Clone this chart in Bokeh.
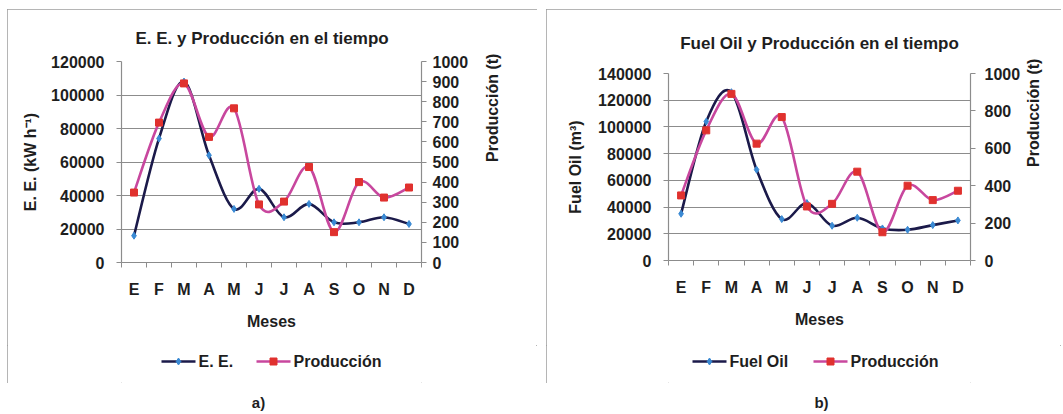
import math
from bokeh.plotting import figure
from bokeh.models import (Range1d, LinearAxis, FixedTicker, ColumnDataSource,
                          NumeralTickFormatter, Spacer)
from bokeh.layouts import row, column
from bokeh.embed import file_html
from bokeh.resources import INLINE
from bokeh.core.properties import value

# ---------------- data ----------------
meses = ["E", "F", "M", "A", "M", "J", "J", "A", "S", "O", "N", "D"]
ee = [16000, 74000, 108000, 64000, 32000, 44000, 27000, 35000, 24000, 24000, 27000, 23000]
fuel_oil = [35000, 104000, 126000, 68000, 31000, 43000, 26000, 32000, 24000, 23000, 26500, 30000]
produccion = [348, 696, 891, 625, 767, 289, 303, 475, 151, 400, 323, 373]
ee_ticks = [0, 20000, 40000, 60000, 80000, 100000, 120000]
fo_ticks = [0, 20000, 40000, 60000, 80000, 100000, 120000, 140000]
prod_ticks_a = [0, 100, 200, 300, 400, 500, 600, 700, 800, 900, 1000]
prod_ticks_b = [0, 200, 400, 600, 800, 1000]

FONT = "Liberation Sans"
TXT = "#1e1e1e"
AX = "#8c8c8c"
NAVY = "#1b1a4a"
BLUE = "#3a8ad4"
PINK = "#c8479e"
RED = "#e0312e"
BOX = ":host { outline: 1px solid #9c9c9c; outline-offset: -1px; }"


def bezier_source(xs, ys):
    n = len(xs)
    d = dict(x0=[], y0=[], x1=[], y1=[], cx0=[], cy0=[], cx1=[], cy1=[])
    for i in range(n - 1):
        a = max(i - 1, 0)
        b = min(i + 2, n - 1)
        d["x0"].append(xs[i]); d["y0"].append(ys[i])
        d["x1"].append(xs[i + 1]); d["y1"].append(ys[i + 1])
        d["cx0"].append(xs[i] + (xs[i + 1] - xs[a]) / 6)
        d["cy0"].append(ys[i] + (ys[i + 1] - ys[a]) / 6)
        d["cx1"].append(xs[i + 1] - (xs[b] - xs[i]) / 6)
        d["cy1"].append(ys[i + 1] - (ys[b] - ys[i]) / 6)
    return ColumnDataSource(d)


def style_axis(ax, font_size="16px"):
    ax.axis_line_color = AX
    ax.axis_line_width = 1.2
    ax.major_tick_line_color = AX
    ax.minor_tick_line_color = AX
    ax.major_label_text_font = FONT
    ax.major_label_text_font_style = "bold"
    ax.major_label_text_font_size = font_size
    ax.major_label_text_color = TXT
    ax.axis_label_text_font = FONT
    ax.axis_label_text_font_style = "bold"
    ax.axis_label_text_font_size = "16px"
    ax.axis_label_text_color = TXT


def chart(title, left_vals, left_ticks, left_label, prod_ticks,
          w, h, bl, br, bt, bb, title_align, title_offset, title_standoff,
          llabel_standoff, rlabel_standoff, rtick_standoff):
    centers = [i + 0.5 for i in range(len(meses))]
    bounds = list(range(len(meses) + 1))
    p = figure(width=w, height=h, x_range=Range1d(0, len(meses)),
               y_range=Range1d(0, left_ticks[-1]),
               output_backend="svg", toolbar_location=None,
               min_border_left=bl, min_border_right=br,
               min_border_top=bt, min_border_bottom=bb)
    p.extra_y_ranges = {"prod": Range1d(0, prod_ticks[-1])}
    p.outline_line_color = None

    p.title.text = title
    p.title.align = title_align
    p.title.offset = title_offset
    p.title.standoff = title_standoff
    p.title.text_font = FONT
    p.title.text_font_style = "bold"
    p.title.text_font_size = "17px"
    p.title.text_color = TXT

    xa = p.xaxis[0]
    xa.ticker = FixedTicker(ticks=centers, minor_ticks=bounds)
    xa.major_label_overrides = {c: m for c, m in zip(centers, meses)}
    style_axis(xa)
    xa.major_tick_out = 0
    xa.major_tick_in = 0
    xa.minor_tick_out = 5
    xa.minor_tick_in = 0
    xa.major_label_standoff = 13
    xa.axis_label = "Meses"
    xa.axis_label_standoff = 12

    ya = p.yaxis[0]
    ya.ticker = FixedTicker(ticks=left_ticks)
    ya.formatter = NumeralTickFormatter(format="0")
    style_axis(ya)
    ya.major_tick_out = 5
    ya.major_tick_in = 0
    ya.minor_tick_out = 0
    ya.minor_tick_in = 0
    ya.major_label_standoff = 12
    ya.axis_label = left_label
    ya.axis_label_standoff = llabel_standoff

    ra = LinearAxis(y_range_name="prod", ticker=FixedTicker(ticks=prod_ticks))
    style_axis(ra)
    ra.major_tick_out = 5
    ra.major_tick_in = 0
    ra.minor_tick_out = 0
    ra.minor_tick_in = 0
    ra.major_label_standoff = rtick_standoff
    ra.axis_label = "Producción (t)"
    ra.axis_label_standoff = rlabel_standoff
    try:
        ra.axis_label_orientation = math.pi / 2
    except AttributeError:
        pass
    p.add_layout(ra, "right")

    p.xgrid.visible = False
    p.ygrid.ticker = FixedTicker(ticks=left_ticks)
    p.ygrid.grid_line_color = AX
    p.ygrid.grid_line_width = 1.2

    p.bezier(x0="x0", y0="y0", x1="x1", y1="y1", cx0="cx0", cy0="cy0",
             cx1="cx1", cy1="cy1", source=bezier_source(centers, left_vals),
             line_color=NAVY, line_width=2.6)
    p.scatter(centers, left_vals, marker="diamond", size=7,
              fill_color=BLUE, line_color=BLUE)
    p.bezier(x0="x0", y0="y0", x1="x1", y1="y1", cx0="cx0", cy0="cy0",
             cx1="cx1", cy1="cy1", source=bezier_source(centers, produccion),
             line_color=PINK, line_width=2.6, y_range_name="prod")
    p.scatter(centers, produccion, marker="square", size=7,
              fill_color=RED, line_color=RED, y_range_name="prod")
    return p


def legend_fig(w, h, frame_w, names, glyph_x, glyph_w, yc):
    # legend strip under the chart; its frame lines up with the chart frame,
    # so x is measured in pixels from the chart frame's left edge
    lf = figure(width=w, height=h, x_range=Range1d(0, frame_w), y_range=Range1d(0, h),
                output_backend="svg", toolbar_location=None, min_border=0,
                x_axis_type=None, y_axis_type=None)
    lf.outline_line_color = None
    lf.grid.visible = False
    styles = [(NAVY, BLUE, "diamond"), (PINK, RED, "square")]
    for n, x, (lc, mc, mk) in zip(names, glyph_x, styles):
        lf.line([x, x + glyph_w], [yc, yc], line_color=lc, line_width=2.6)
        lf.scatter([x + glyph_w / 2], [yc], marker=mk, size=7, fill_color=mc, line_color=mc)
        lf.text([x + glyph_w + 3], [yc], text=[n], text_font=value(FONT),
                text_font_style="bold", text_font_size="16px",
                text_baseline="middle", text_align="left", text_color=TXT)
    return lf


# panel A (530 x 374): frame 300 px wide
ca = chart("E. E. y Producción en el tiempo", ee, ee_ticks, "E. E. (kW h⁻¹)",
           prod_ticks_a, 530, 336, 114, 116, 52, 83, "left", 14, 27, 9, 21, 6)
la = legend_fig(530, 38, 300, ["E. E.", "Producción"], [40, 135], 34, 22)
pa = column(ca, la, stylesheets=[BOX])

# panel B (515 x 374): frame 302 px wide
cb = chart("Fuel Oil y Producción en el tiempo", fuel_oil, fo_ticks, "Fuel Oil (m³)",
           prod_ticks_b, 515, 336, 122, 91, 64, 85, "center", 0, 42, 11, 10, 9)
lb = legend_fig(515, 38, 302, ["Fuel Oil", "Producción"], [24, 145], 34, 22)
pb = column(cb, lb, stylesheets=[BOX])

cap = figure(width=1061, height=30, x_range=Range1d(0, 1061), y_range=Range1d(0, 30),
             output_backend="svg", toolbar_location=None, min_border=0,
             x_axis_type=None, y_axis_type=None)
cap.outline_line_color = None
cap.grid.visible = False
cap.text(x=[258, 821], y=[11, 11], text=["a)", "b)"], text_font=value(FONT),
         text_font_style="bold", text_font_size="15px", text_align="center",
         text_baseline="middle", text_color=TXT)

layout = column(Spacer(width=1061, height=9),
                row(Spacer(width=7, height=374), pa, Spacer(width=9, height=374), pb),
                cap)
open("out.html", "w").write(file_html(layout, INLINE))
